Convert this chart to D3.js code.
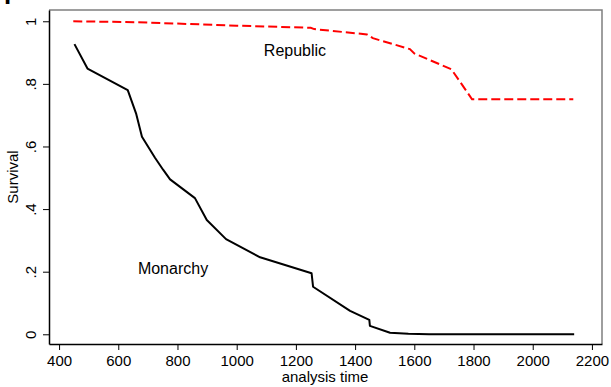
<html>
<head>
<meta charset="utf-8">
<title>Survival by regime</title>
<script src="https://cdn.jsdelivr.net/npm/d3@7/dist/d3.min.js"></script>
<style>
  body { margin: 0; background: #fff; }
  text { font-family: "Liberation Sans", Arial, sans-serif; fill: #000; }
</style>
</head>
<body>
<div id="chart"></div>
<script>
// data
var monarchyTime = [452, 496, 632, 660, 680, 724, 752, 775, 859, 899, 964, 1079, 1253, 1258, 1383, 1448, 1450, 1518, 1580, 1650, 2140];
var monarchySurv = [0.927, 0.849, 0.780, 0.706, 0.631, 0.564, 0.525, 0.495, 0.435, 0.365, 0.304, 0.246, 0.195, 0.152, 0.075, 0.046, 0.027, 0.005, 0.002, 0.0005, 0];
var republicTime = [448, 665, 1000, 1250, 1262, 1440, 1460, 1585, 1600, 1725, 1795, 2137];
var republicSurv = [1.0, 0.997, 0.986, 0.979, 0.975, 0.958, 0.946, 0.911, 0.897, 0.847, 0.751, 0.751];
var xTicks = [400, 600, 800, 1000, 1200, 1400, 1600, 1800, 2000, 2200];
var yTicks = [0, 0.2, 0.4, 0.6, 0.8, 1];
var yTickLabels = ["0", ".2", ".4", ".6", ".8", "1"];
var seriesNames = ["Monarchy", "Republic"];

var width = 611, height = 387;
var plotLeft = 49, plotRight = 602, plotTop = 10, plotBottom = 344;

var svg = d3.select("#chart").append("svg")
    .attr("width", width).attr("height", height);

var x = d3.scaleLinear().domain([366, 2234]).range([plotLeft, plotRight]);
var y = d3.scaleLinear().domain([-0.031, 1.036]).range([plotBottom, plotTop]);

// frame (grey top/right)
svg.append("path")
    .attr("d", "M" + plotLeft + "," + plotTop + "H" + plotRight + "V" + plotBottom)
    .attr("fill", "none").attr("stroke", "#7f7f7f").attr("stroke-width", 1.5);

// axes
var xAxis = svg.append("g").attr("transform", "translate(0," + plotBottom + ")")
    .call(d3.axisBottom(x).tickValues(xTicks).tickSize(6).tickPadding(5).tickSizeOuter(0)
      .tickFormat(d3.format("d")));
xAxis.select(".domain").attr("stroke-width", 1.5);
xAxis.selectAll("text").attr("font-size", 15).attr("font-family", "Liberation Sans, Arial, sans-serif");

var yAxis = svg.append("g").attr("transform", "translate(" + plotLeft + ",0)")
    .call(d3.axisLeft(y).tickValues(yTicks).tickSize(6).tickSizeOuter(0)
      .tickFormat(function(d, i) { return yTickLabels[i]; }));
yAxis.select(".domain").attr("stroke-width", 1.5);
yAxis.selectAll("text")
    .attr("font-size", 15).attr("font-family", "Liberation Sans, Arial, sans-serif")
    .attr("text-anchor", "middle").attr("dy", 0)
    .attr("x", 0)
    .attr("transform", "translate(-13,0) rotate(-90)");

// axis titles
svg.append("text").attr("x", 325).attr("y", 382).attr("text-anchor", "middle")
    .attr("font-size", 15).text("analysis time");
svg.append("text").attr("transform", "translate(18,177) rotate(-90)")
    .attr("text-anchor", "middle").attr("font-size", 15).text("Survival");

// clipped panel letter in the corner
svg.append("text").attr("x", 4).attr("y", -1)
    .attr("font-family", "Liberation Serif, serif").attr("font-weight", "bold")
    .attr("font-size", 26).text("p");

var line = d3.line().x(function(d) { return x(d[0]); }).y(function(d) { return y(d[1]); });

var mon = d3.zip(monarchyTime, monarchySurv);
var rep = d3.zip(republicTime, republicSurv);

svg.append("path").datum(rep).attr("d", line)
    .attr("fill", "none").attr("stroke", "#ff0000").attr("stroke-width", 2)
    .attr("stroke-dasharray", "9,4");
svg.append("path").datum(mon).attr("d", line)
    .attr("fill", "none").attr("stroke", "#000").attr("stroke-width", 2)
    .attr("stroke-linejoin", "round");

// series labels
svg.append("text").attr("x", 173).attr("y", 274).attr("text-anchor", "middle")
    .attr("font-size", 16).text(seriesNames[0]);
svg.append("text").attr("x", 295).attr("y", 56).attr("text-anchor", "middle")
    .attr("font-size", 16).text(seriesNames[1]);
</script>
</body>
</html>
